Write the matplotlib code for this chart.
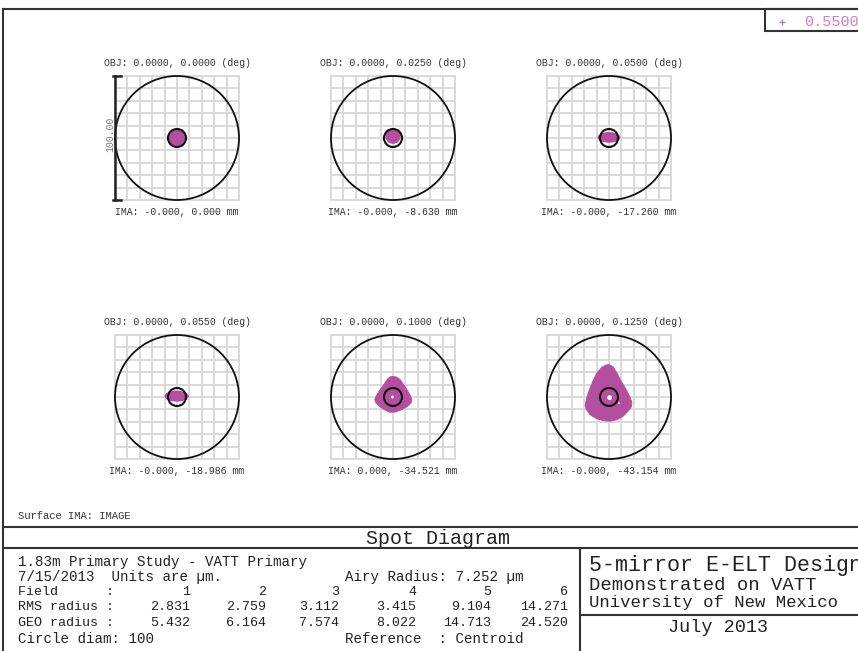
import matplotlib
matplotlib.use("Agg")
import matplotlib.pyplot as plt
from matplotlib.patches import Circle, Ellipse, Polygon, Rectangle
import numpy as np

# spot diagram values (micrometres, relative to the chief ray centroid)
obj_fields = ["0.0000, 0.0000", "0.0000, 0.0250", "0.0000, 0.0500",
              "0.0000, 0.0550", "0.0000, 0.1000", "0.0000, 0.1250"]
ima_heights = ["-0.000, 0.000", "-0.000, -8.630", "-0.000, -17.260",
               "-0.000, -18.986", "0.000, -34.521", "-0.000, -43.154"]
rms_radius = [2.831, 2.759, 3.112, 3.415, 9.104, 14.271]
geo_radius = [5.432, 6.164, 7.574, 8.022, 14.713, 24.520]
airy_radius = 7.252
circle_diam = 100
wavelength = 0.5500

# footprint of each spot
spot_round = {0: (0.0, 0.0, 6.8), 1: (0.0, 1.5, 6.2)}
spot_oval = {2: (0.0, 0.5, 18.5, 8.6), 3: (-0.3, 0.7, 19.6, 8.9)}
spot5_x = [-0.8, 2.7, 5.9, 8.6, 11.3, 14.0, 15.3, 14.5, 11.8, 7.3, 1.9, -2.2,
           -6.2, -10.2, -13.7, -14.8, -13.4, -10.8, -7.5, -4.8, -2.7]
spot5_y = [16.7, 16.1, 14.0, 9.9, 5.9, 1.1, -2.2, -4.8, -7.5, -10.2, -12.1, -12.4,
           -10.8, -8.1, -4.8, -2.2, 1.1, 5.4, 9.9, 14.0, 16.1]
spot6_x = [-0.1, 3.3, 6.5, 10.0, 14.0, 16.7, 18.5, 18.0, 15.3, 11.3, 6.5, 0.7,
           -4.7, -10.0, -15.3, -18.5, -19.3, -18.0, -15.9, -13.2, -10.0, -6.0, -2.5]
spot6_y = [26.3, 24.4, 19.1, 12.4, 5.7, 0.4, -4.4, -8.1, -11.6, -15.6, -18.3, -19.6,
           -19.1, -17.5, -14.3, -9.7, -6.3, -0.9, 5.7, 12.4, 19.1, 23.9, 25.8]
# small unfilled gaps near the centre of the wide spots: (panel, x, y, r)
holes = [(4, -0.5, 0.0, 1.2), (5, 0.5, -0.5, 2.0), (5, 8.0, -5.0, 0.8)]

W, H = 858, 651
spot_col = "#b44e9f"
txt_col = "#333333"
mono = "Liberation Mono"

fig = plt.figure(figsize=(W / 100, H / 100), dpi=100)
base = fig.add_axes([0, 0, 1, 1])
base.set_xlim(0, W)
base.set_ylim(H, 0)
base.axis("off")

centers = [(177, 138), (393, 138), (609, 138), (177, 397), (393, 397), (609, 397)]
half = 62
for i, (cx, cy) in enumerate(centers):
    ax = fig.add_axes([(cx - half) / W, 1 - (cy + half) / H, 2 * half / W, 2 * half / H])
    ax.set_xlim(-circle_diam / 2, circle_diam / 2)
    ax.set_ylim(-circle_diam / 2, circle_diam / 2)
    ax.axis("off")
    for g in np.arange(-50, 51, 10):
        ax.plot([g, g], [-50, 50], color="#d9d9d9", lw=1.4, clip_on=False, zorder=1)
        ax.plot([-50, 50], [g, g], color="#d9d9d9", lw=1.4, clip_on=False, zorder=1)
    ax.add_patch(Circle((0, 0), circle_diam / 2, fill=False, ec="#111111", lw=1.3,
                        clip_on=False, zorder=2))
    if i in spot_round:
        x0, y0, r = spot_round[i]
        ax.add_patch(Circle((x0, y0), r, fc=spot_col, ec="none", zorder=3))
    elif i in spot_oval:
        x0, y0, w, h = spot_oval[i]
        ax.add_patch(Ellipse((x0, y0), w, h, fc=spot_col, ec="none", zorder=3))
    elif i == 4:
        ax.add_patch(Polygon(np.column_stack([spot5_x, spot5_y]), closed=True,
                             fc=spot_col, ec=spot_col, lw=0.6, zorder=3))
    else:
        ax.add_patch(Polygon(np.column_stack([spot6_x, spot6_y]), closed=True,
                             fc=spot_col, ec=spot_col, lw=0.6, zorder=3))
    for p, hx, hy, hr in holes:
        if p == i:
            ax.add_patch(Circle((hx, hy), hr, fc="white", ec="none", zorder=4))
    ax.add_patch(Circle((0, 0), airy_radius, fill=False, ec="#111111", lw=1.5, zorder=5))

    if i == 0:
        # scale bar along the left edge, one circle diameter long
        ax.plot([-50, -50], [-50, 50], color="#222222", lw=1.8, clip_on=False, zorder=6)
        for yy in (-50, 50):
            ax.plot([-52, -45], [yy, yy], color="#222222", lw=1.8, clip_on=False, zorder=6)
        ax.text(-54, 3, "%.2f" % circle_diam, rotation=90, ha="center", va="center",
                fontsize=7.1, family=mono, color="#777777", zorder=7)

    base.text(cx, cy - 75, "OBJ: %s (deg)" % obj_fields[i], ha="center", va="center",
              fontsize=7.1, family=mono, color=txt_col)
    base.text(cx, cy + 74, "IMA: %s mm" % ima_heights[i], ha="center", va="center",
              fontsize=7.1, family=mono, color=txt_col)

# frame and title block
lc = "#333333"
base.plot([3, 3], [9, H], color=lc, lw=1.5)
base.plot([3, W], [9, 9], color=lc, lw=1.5)
base.add_patch(Rectangle((765, 9), 100, 22, fill=False, ec=lc, lw=1.5))
base.plot([782], [21.5], marker="+", ms=4, mew=1, color="#cc6fbd")
base.text(804, 21.5, "%.4f" % wavelength, ha="left", va="center", fontsize=11,
          family=mono, color="#d27fc6")
base.plot([3, W], [527, 527], color=lc, lw=1.5)
base.plot([3, W], [548, 548], color=lc, lw=1.5)
base.plot([580, 580], [548, H], color=lc, lw=1.5)
base.plot([580, W], [615, 615], color=lc, lw=1.5)

base.text(18, 516, "Surface IMA: IMAGE", ha="left", va="center", fontsize=7.6,
          family=mono, color=txt_col)
base.text(438, 538, "Spot Diagram", ha="center", va="center", fontsize=14.4,
          family=mono, color="#222222")

fs = 10.2
base.text(18, 562, "1.83m Primary Study - VATT Primary", ha="left", va="center",
          fontsize=fs, family=mono, color="#222222")
base.text(18, 577, "7/15/2013  Units are \u00b5m.", ha="left", va="center",
          fontsize=fs, family=mono, color="#222222")
base.text(345, 577, "Airy Radius: %.3f \u00b5m" % airy_radius, ha="left", va="center",
          fontsize=fs, family=mono, color="#222222")
row_y = {"Field      :": 592, "RMS radius :": 607, "GEO radius :": 623}
col_x = [190, 266, 339, 416, 491, 568]
fs_t = 9.6
for label, yy in row_y.items():
    base.text(18, yy, label, ha="left", va="center", fontsize=fs_t, family=mono,
              color="#222222")
for k, xx in enumerate(col_x):
    base.text(xx, 592, str(k + 1), ha="right", va="center", fontsize=fs_t,
              family=mono, color="#222222")
    base.text(xx, 607, "%.3f" % rms_radius[k], ha="right", va="center", fontsize=fs_t,
              family=mono, color="#222222")
    base.text(xx, 623, "%.3f" % geo_radius[k], ha="right", va="center", fontsize=fs_t,
              family=mono, color="#222222")
base.text(18, 639, "Circle diam: %d" % circle_diam, ha="left", va="center",
          fontsize=fs, family=mono, color="#222222")
base.text(345, 639, "Reference  : Centroid", ha="left", va="center",
          fontsize=fs, family=mono, color="#222222")

base.text(589, 566, "5-mirror E-ELT Design", ha="left", va="center", fontsize=15.6,
          family=mono, color="#222222")
base.text(589, 586, "Demonstrated on VATT", ha="left", va="center", fontsize=13.6,
          family=mono, color="#222222")
base.text(589, 603, "University of New Mexico", ha="left", va="center", fontsize=12.4,
          family=mono, color="#222222")
base.text(718, 628, "July 2013", ha="center", va="center", fontsize=13.4,
          family=mono, color="#222222")

fig.savefig("out.png", dpi=100)
